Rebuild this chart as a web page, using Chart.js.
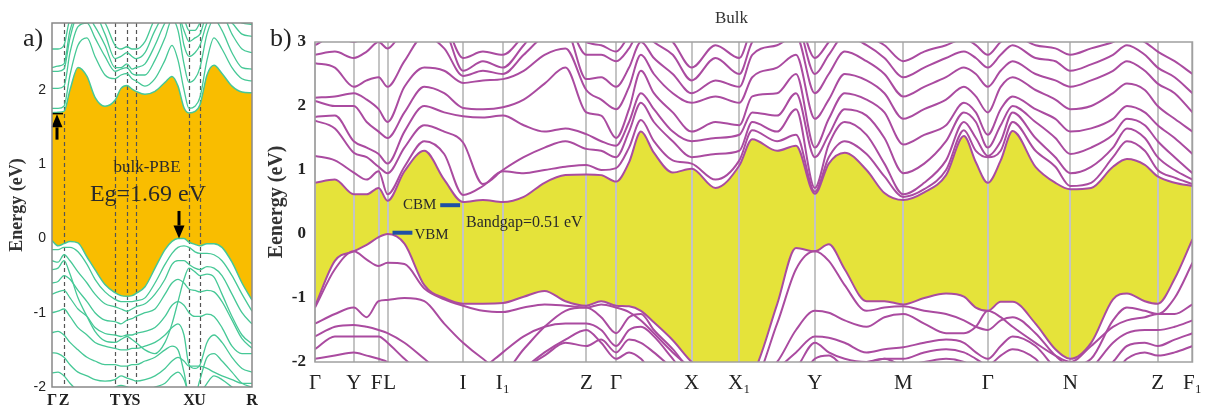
<!DOCTYPE html>
<html><head><meta charset="utf-8">
<script src="https://cdn.jsdelivr.net/npm/chart.js@4.4.1/dist/chart.umd.min.js"></script>
<style>
html,body{margin:0;padding:0;background:#fff;width:1211px;height:407px;overflow:hidden;}
#wa{position:absolute;left:0;top:0;width:265px;height:407px;}
#wb{position:absolute;left:265px;top:0;width:946px;height:407px;}
.lab{position:absolute;font-family:'Liberation Serif','Times New Roman',serif;font-size:26px;color:#222;line-height:1;}
</style></head><body>
<div id="wa"><canvas id="ca" width="265" height="407"></canvas></div>
<div id="wb"><canvas id="cb" width="946" height="407"></canvas></div>
<div class="lab" style="left:23px;top:25px">a)</div>
<div class="lab" style="left:270px;top:25px">b)</div>
<script>
// ---------------- Panel a (bulk-PBE) ----------------
const kA = [0,0.06,0.12,0.18,0.26,0.35,0.43,0.53,0.63,0.69,0.75,0.80,0.84,0.93,1.03,1.13,1.20,1.26,1.32,1.37,1.43,1.48,1.55,1.62,1.70,1.80,1.90,2.0];
const kATicks = [0,0.12,0.63,0.75,0.84,1.37,1.48,2.0];
const kALabels = ['Γ','Z','T','Y','S','X','U','R'];
const yTicksA = [-2,-1,0,1,2];
const aCond1 = [1.69,1.70,1.71,2.00,2.30,2.18,1.90,1.78,1.86,2.02,2.06,2.01,1.98,1.94,1.98,2.10,2.18,2.05,1.76,1.69,1.71,1.80,2.20,2.33,2.22,2.05,1.97,1.96];
const aCond2 = [1.75,1.75,1.78,2.20,2.60,2.70,2.45,2.20,2.15,2.20,2.22,2.15,2.12,2.05,2.15,2.40,2.60,2.40,2.00,1.75,1.78,1.90,2.40,2.70,2.55,2.30,2.15,2.12];
const aCond3 = [2.02,2.02,2.05,2.50,2.85,2.90,2.70,2.45,2.25,2.28,2.30,2.22,2.20,2.20,2.40,2.70,2.95,2.80,2.35,2.10,2.15,2.30,2.75,2.95,2.80,2.50,2.30,2.28];
const aCond4 = [2.25,2.25,2.28,2.70,3.00,3.00,2.85,2.60,2.30,2.30,2.35,2.28,2.30,2.35,2.60,2.90,3.00,3.00,2.60,2.45,2.50,2.60,2.90,3.00,3.00,2.75,2.55,2.50];
const aCond5 = [2.30,2.32,2.35,2.80,3.00,3.00,3.00,2.75,2.42,2.45,2.50,2.45,2.42,2.50,2.80,3.00,3.00,3.00,2.80,2.65,2.70,2.75,3.00,3.00,3.00,2.90,2.75,2.72];
const aCond6 = [2.55,2.55,2.60,2.95,3.00,3.00,3.00,2.90,2.60,2.55,2.58,2.55,2.55,2.65,2.95,3.00,3.00,3.00,2.95,2.80,2.80,2.90,3.00,3.00,3.00,3.00,2.90,2.88];
const aVal1 = [-0.03,-0.10,-0.07,-0.04,-0.06,-0.25,-0.42,-0.62,-0.73,-0.77,-0.78,-0.77,-0.74,-0.65,-0.40,-0.15,-0.04,0.00,0.00,-0.05,-0.08,-0.10,-0.07,-0.07,-0.12,-0.32,-0.60,-0.83];
const aVal2 = [-0.15,-0.15,-0.12,-0.12,-0.18,-0.35,-0.55,-0.72,-0.82,-0.85,-0.85,-0.85,-0.84,-0.80,-0.60,-0.35,-0.20,-0.12,-0.10,-0.12,-0.18,-0.20,-0.20,-0.22,-0.30,-0.50,-0.75,-0.98];
const aVal3 = [-0.30,-0.32,-0.22,-0.30,-0.45,-0.60,-0.75,-0.88,-0.92,-0.95,-0.98,-0.95,-0.92,-0.88,-0.75,-0.55,-0.35,-0.30,-0.30,-0.35,-0.40,-0.42,-0.38,-0.40,-0.50,-0.75,-1.00,-1.15];
const aVal4 = [-0.60,-0.58,-0.50,-0.55,-0.70,-0.85,-1.00,-1.10,-1.12,-1.15,-1.10,-1.08,-1.05,-1.00,-0.95,-0.75,-0.60,-0.55,-0.60,-0.68,-0.70,-0.72,-0.70,-0.72,-0.85,-1.10,-1.35,-1.48];
const aVal5 = [-0.75,-0.72,-0.70,-0.80,-0.95,-1.05,-1.20,-1.28,-1.30,-1.32,-1.30,-1.30,-1.28,-1.25,-1.20,-1.05,-0.90,-0.85,-0.90,-1.00,-1.05,-1.05,-1.02,-1.05,-1.20,-1.45,-1.55,-1.55];
const aVal6 = [-1.00,-0.98,-0.95,-1.05,-1.20,-1.30,-1.40,-1.45,-1.48,-1.50,-1.50,-1.48,-1.48,-1.45,-1.40,-1.30,-1.20,-1.15,-1.30,-1.70,-1.75,-1.70,-1.40,-1.30,-1.40,-1.60,-1.75,-1.80];
const aVal7 = [-1.27,-1.25,-1.30,-1.40,-1.50,-1.60,-1.65,-1.70,-1.70,-1.72,-1.72,-1.70,-1.70,-1.65,-1.60,-1.50,-1.45,-1.50,-1.80,-2.10,-2.10,-1.90,-1.60,-1.55,-1.65,-1.80,-1.95,-2.00];
const aVal8 = [-1.54,-1.55,-1.60,-1.70,-1.80,-1.85,-1.90,-1.92,-1.90,-1.85,-1.88,-1.90,-1.92,-1.90,-1.85,-1.75,-1.65,-1.60,-1.65,-1.72,-1.72,-1.72,-1.75,-1.80,-1.85,-1.90,-1.95,-1.95];
const aVal9 = [-1.81,-1.80,-1.85,-1.95,-2.05,-2.10,-2.10,-2.05,-2.00,-1.98,-2.00,-2.02,-2.05,-2.05,-2.00,-1.95,-1.85,-1.80,-1.90,-2.10,-2.20,-2.10,-1.95,-1.85,-1.90,-2.00,-2.10,-2.10];
const aVal10 = [-0.42,-0.40,-0.30,-0.48,-0.80,-1.05,-1.25,-1.38,-1.40,-1.36,-1.32,-1.36,-1.40,-1.50,-1.55,-1.40,-1.15,-0.85,-0.55,-0.40,-0.45,-0.50,-0.48,-0.52,-0.75,-1.05,-1.30,-1.42];

// ---------------- Panel b (Bulk) ----------------
const kB = [0,0.20,0.39,0.52,0.64,0.73,0.90,1.10,1.30,1.49,1.69,1.89,2.10,2.31,2.52,2.73,2.88,3.03,3.16,3.28,3.41,3.60,3.79,4.03,4.27,4.40,4.65,4.84,5.03,5.17,5.33,5.55,5.73,5.92,6.13,6.35,6.53,6.65,6.77,6.90,7.02,7.25,7.45,7.60,7.81,8.03,8.17,8.35,8.48,8.65,8.83];
const kBTicks = [0,0.39,0.64,0.73,1.49,1.89,2.73,3.03,3.79,4.27,5.03,5.92,6.77,7.60,8.48,8.83];
const kBLabels = ['Γ','Y','F\u2009','\u2009L','I','I₁','Z','Γ','X','X₁','Y','M','Γ','N','Z','F₁'];
const yTicksB = [-2,-1,0,1,2,3];
const bCond1 = [0.80,0.85,0.62,0.62,0.72,0.52, 0.98,1.30,0.85,0.50, 0.53,0.50,0.58,0.80,0.92, 0.93,0.92,0.82,1.12,1.60, 1.27,0.96,1.02,0.72,1.07, 1.48,1.30,1.38,0.63,1.10, 1.27,1.00,0.64,0.53,0.65, 0.92,1.53,1.12,0.80,1.15, 1.61,1.05,0.80,0.70,0.72, 1.05,1.17,1.08,0.90,0.80, 0.75];
const bCond2 = [1.22,1.15,0.96,0.85,0.98,0.62, 1.05,1.45,1.25,0.61, 0.75,0.98,0.95,1.00,1.05, 1.08,1.00,1.03,1.35,1.78, 1.45,1.15,1.10,0.85,1.15, 1.62,1.45,1.55,0.66,1.20, 1.45,1.25,0.90,0.58,0.70, 1.00,1.62,1.30,1.20,1.30, 1.75,1.30,1.05,0.75,0.80, 1.20,1.45,1.30,1.00,0.88, 0.78];
const bCond3 = [1.77,1.65,1.27,1.20,1.05,0.95, 1.35,1.70,1.60,1.43, 0.78,1.00,1.20,1.35,1.45, 1.33,1.30,1.20,1.60,2.05, 1.75,1.45,1.20,1.25,1.30, 1.75,1.60,1.95,0.72,1.40, 1.75,1.55,1.10,0.62,0.80, 1.15,1.75,1.50,1.22,1.45, 1.90,1.50,1.20,0.95,1.05, 1.35,1.65,1.50,1.20,1.00, 0.85];
const bCond4 = [1.83,1.85,1.45,1.35,1.25,1.10, 1.60,2.00,1.90,1.84, 1.82,1.85,1.70,1.60,1.65, 1.56,1.45,1.38,1.75,2.20, 1.95,1.60,1.45,1.50,1.55, 1.90,1.85,2.20,1.20,1.55, 1.95,1.85,1.50,0.95,1.10, 1.45,1.90,1.75,1.35,1.70, 2.00,1.75,1.50,1.25,1.35, 1.55,1.80,1.70,1.45,1.20, 0.95];
const bCond5 = [2.08,2.00,2.00,1.75,1.60,1.50, 1.90,2.30,2.20,1.97, 1.95,1.98,2.10,2.35,2.60, 1.90,1.85,1.50,1.95,2.55, 2.20,1.90,1.60,1.75,1.70, 2.15,2.20,2.50,1.35,1.80, 2.20,2.10,1.90,1.40,1.55, 1.70,2.05,1.90,1.55,1.95, 2.15,1.95,1.80,1.60,1.65, 1.80,2.00,1.90,1.70,1.50, 1.25];
const bCond6 = [2.13,2.15,2.20,2.10,1.95,1.75, 2.30,2.60,2.55,2.36, 2.40,2.42,2.55,2.80,2.90, 2.25,2.10,1.95,2.30,2.80, 2.50,2.20,2.05,2.15,2.05, 2.45,2.60,2.80,1.80,2.10, 2.50,2.40,2.20,1.80,1.95, 2.10,2.30,2.15,1.90,2.30, 2.45,2.25,2.10,1.95,2.00, 2.20,2.35,2.25,2.00,1.80, 1.60];
const bCond7 = [2.67,2.60,2.30,2.40,2.45,2.30, 2.70,3.10,2.90,2.47, 2.55,2.50,2.80,3.10,3.20, 2.42,2.45,2.30,2.60,3.00, 2.75,2.50,2.20,2.40,2.30, 2.80,2.95,3.10,2.20,2.50, 2.85,2.70,2.50,2.15,2.30, 2.45,2.60,2.50,2.30,2.55, 2.70,2.50,2.40,2.30,2.40, 2.55,2.70,2.55,2.35,2.20, 1.90];
const bCond8 = [2.80,2.85,2.75,2.85,3.00,2.90, 3.20,3.30,3.20,2.55, 2.70,2.60,2.95,3.30,3.30, 2.80,2.80,2.70,2.90,3.20, 3.00,2.80,2.40,2.75,2.50, 3.00,3.20,3.30,2.50,2.80, 3.10,2.95,2.75,2.45,2.60, 2.75,2.85,2.75,2.60,2.80, 2.95,2.75,2.70,2.55,2.65, 2.80,2.95,2.80,2.60,2.45, 2.20];
const bCond9 = [2.95,3.10,3.00,3.10,3.20,3.20, 3.30,3.40,3.30,2.75, 2.85,2.80,3.10,3.40,3.40, 3.00,2.95,2.85,3.10,3.30, 3.20,3.00,2.60,2.95,2.75, 3.20,3.30,3.40,2.75,3.00, 3.30,3.10,2.95,2.70,2.85, 2.95,3.05,2.95,2.80,3.00, 3.10,2.95,2.90,2.80,2.90, 3.00,3.10,3.00,2.85,2.70, 2.50];
const bVal1 = [-1.13,-0.42,-0.27,-0.17,-0.05,0.00, -0.15,-0.80,-1.00,-1.09, -1.09,-1.08,-0.98,-0.89,-1.05, -1.12,-1.05,-1.12,-1.13,-1.20, -1.38,-1.66,-2.00,-2.30,-2.30, -2.20,-1.10,-0.22,-0.27,-0.16, -0.55,-1.05,-1.05,-1.10,-1.00, -0.93,-0.98,-1.15,-1.20,-1.06, -1.06,-1.40,-1.80,-1.95,-1.70, -1.02,-0.93,-1.05,-1.09,-0.70, -0.08];
const bVal2 = [-1.15,-0.55,-0.27,-0.40,-0.50,-0.45, -0.47,-0.85,-1.02,-1.12, -1.20,-1.22,-1.15,-1.10,-1.12, -1.15,-1.10,-1.15,-1.22,-1.35, -1.55,-1.85,-2.10,-2.30,-2.30, -2.30,-1.40,-0.55,-0.27,-0.42, -0.80,-1.20,-1.15,-1.13,-1.20, -1.25,-1.35,-1.45,-1.50,-1.35, -1.30,-1.55,-1.90,-2.05,-1.95, -1.35,-1.15,-1.20,-1.25,-1.00, -0.45];
const bVal3 = [-1.40,-1.25,-1.15,-1.30,-1.05,-1.03, -1.00,-1.05,-1.40,-1.70, -1.95,-2.15,-1.80,-1.45,-1.20, -1.15,-1.30,-1.55,-1.30,-1.25, -1.50,-1.80,-2.15,-2.30,-2.30, -2.30,-2.00,-1.50,-1.20,-1.23, -1.35,-1.45,-1.30,-1.25,-1.40, -1.55,-1.55,-1.45,-1.20,-1.30, -1.45,-1.70,-1.90,-2.00,-1.75, -1.45,-1.35,-1.30,-1.25,-1.25, -1.10];
const bVal4 = [-1.60,-1.45,-1.42,-1.45,-1.50,-1.55, -1.70,-1.95,-2.20,-2.30, -2.10,-1.85,-1.60,-1.45,-1.40, -1.40,-1.50,-1.75,-1.50,-1.45, -1.60,-1.95,-2.30,-2.30,-2.30, -2.30,-2.10,-1.85,-1.60,-1.62, -1.70,-1.85,-1.80,-1.77,-1.70, -1.65,-1.70,-1.85,-1.95,-1.75, -1.60,-1.75,-2.10,-2.30,-2.10, -1.70,-1.55,-1.50,-1.50,-1.45, -1.35];
const bVal5 = [-1.80,-1.60,-1.60,-1.60,-1.60,-1.70, -1.95,-2.20,-2.30,-2.30, -2.30,-2.30,-2.10,-1.90,-1.70, -1.75,-1.65,-1.85,-1.65,-1.70, -1.85,-2.10,-2.30,-2.30,-2.30, -2.30,-2.30,-2.10,-1.70,-1.85, -1.95,-2.00,-1.95,-1.95,-1.85, -1.80,-1.85,-1.95,-2.05,-1.90, -1.80,-1.95,-2.30,-2.30,-2.30, -2.00,-1.75,-1.70,-1.75,-1.65, -1.55];
const bVal6 = [-1.95,-1.90,-1.85,-1.90,-1.95,-2.00, -2.20,-2.30,-2.30,-2.30, -2.30,-2.30,-2.10,-1.85,-1.65, -1.50,-1.70,-1.95,-1.85,-1.95, -2.20,-2.30,-2.30,-2.30,-2.30, -2.30,-2.30,-2.30,-1.95,-1.90, -2.05,-2.00,-1.95,-2.05,-2.00, -1.95,-2.00,-2.10,-2.30,-2.30, -2.30,-2.30,-2.30,-2.30,-2.30, -2.20,-1.95,-1.85,-1.90,-1.85, -1.75];

// ---------------- styling / helpers ----------------
const SERIF = "'Liberation Serif','Times New Roman',serif";
const GREEN = '#46c896', ORANGE = '#f9bd00', PURPLE = '#aa4ba0', YELLOW = '#e5e33a', BLUE = '#1f4fa5';

function pts(k, e) { return k.map((v, i) => ({x: v, y: e[i]})); }
function band(k, e, color, w, extra) {
  return Object.assign({data: pts(k, e), borderColor: color, borderWidth: w, pointRadius: 0,
    fill: false, cubicInterpolationMode: 'monotone'}, extra || {});
}
function deco(cfg) {
  return {
    id: 'deco' + cfg.name,
    beforeDatasetsDraw(chart) {
      if (!cfg.dashed) return;
      const {ctx, chartArea: a, scales: {x}} = chart;
      ctx.save();
      ctx.strokeStyle = cfg.dashed.color; ctx.lineWidth = cfg.dashed.width; ctx.setLineDash(cfg.dashed.dash);
      cfg.dashed.at.forEach(k => {
        const px = Math.round(x.getPixelForValue(k)) + 0.5;
        ctx.beginPath(); ctx.moveTo(px, a.top); ctx.lineTo(px, a.bottom); ctx.stroke();
      });
      ctx.restore();
    },
    afterDatasetsDraw(chart) {
      const {ctx, chartArea: a, scales: {x, y}} = chart;
      ctx.save();
      ctx.setLineDash([]);
      (cfg.bars || []).forEach(b => {
        ctx.strokeStyle = b.color; ctx.lineWidth = b.width;
        ctx.beginPath(); ctx.moveTo(x.getPixelForValue(b.k1), y.getPixelForValue(b.e));
        ctx.lineTo(x.getPixelForValue(b.k2), y.getPixelForValue(b.e)); ctx.stroke();
      });
      (cfg.arrows || []).forEach(ar => {
        const px = x.getPixelForValue(ar.k), p1 = y.getPixelForValue(ar.e1), p2 = y.getPixelForValue(ar.e2);
        const dir = p2 > p1 ? 1 : -1, hl = 13, hw = 5.5;
        ctx.strokeStyle = '#000'; ctx.fillStyle = '#000'; ctx.lineWidth = 3;
        ctx.beginPath(); ctx.moveTo(px, p1); ctx.lineTo(px, p2 - dir * hl); ctx.stroke();
        ctx.beginPath(); ctx.moveTo(px, p2); ctx.lineTo(px - hw, p2 - dir * hl); ctx.lineTo(px + hw, p2 - dir * hl);
        ctx.closePath(); ctx.fill();
      });
      (cfg.texts || []).forEach(t => {
        ctx.font = t.font; ctx.fillStyle = t.color; ctx.textAlign = t.align; ctx.textBaseline = 'middle';
        ctx.fillText(t.text, x.getPixelForValue(t.k), y.getPixelForValue(t.e));
      });
      ctx.strokeStyle = cfg.frame.color; ctx.lineWidth = cfg.frame.width;
      ctx.strokeRect(a.left, a.top, a.width, a.height);
      ctx.restore();
    }
  };
}

// ---------------- chart a ----------------
const aConds = [aCond1, aCond2, aCond3, aCond4, aCond5, aCond6];
const aVals = [aVal1, aVal2, aVal3, aVal4, aVal5, aVal6, aVal7, aVal8, aVal9, aVal10];
const dsA = [band(kA, aCond1, GREEN, 1.5, {fill: 1, backgroundColor: ORANGE}), band(kA, aVal1, GREEN, 1.5)];
aConds.slice(1).forEach(e => dsA.push(band(kA, e, GREEN, 1.3)));
aVals.slice(1).forEach(e => dsA.push(band(kA, e, GREEN, 1.3)));

new Chart(document.getElementById('ca'), {
  type: 'line',
  data: {datasets: dsA},
  options: {
    responsive: false, animation: false, events: [],
    layout: {padding: {left: 0, right: 13, top: 23, bottom: 0}},
    plugins: {legend: {display: false}, tooltip: {enabled: false}, filler: {drawTime: 'beforeDraw'}},
    scales: {
      x: {type: 'linear', min: 0, max: 2.0,
        afterFit: s => { s.height = 20; },
        afterBuildTicks: s => { s.ticks = kATicks.map(v => ({value: v})); },
        ticks: {autoSkip: false, maxRotation: 0, minRotation: 0, padding: 4, color: '#222',
          font: {family: SERIF, size: 16, weight: 'bold'}, callback: (v, i) => kALabels[i]},
        grid: {display: false, drawTicks: false}, border: {display: false}},
      y: {type: 'linear', min: -2, max: 2.9,
        afterFit: s => { s.width = 52; },
        afterBuildTicks: s => { s.ticks = yTicksA.map(v => ({value: v})); },
        ticks: {padding: 6, color: '#222', font: {family: "'Liberation Sans',Arial,sans-serif", size: 14},
          callback: v => String(v)},
        grid: {display: false, drawTicks: false}, border: {display: false},
        title: {display: true, text: 'Energy (eV)', color: '#333',
          font: {family: SERIF, size: 18, weight: 'bold'}, padding: {top: 7, bottom: 0}}}
    }
  },
  plugins: [deco({
    name: 'a',
    dashed: {at: [0.12, 0.63, 0.75, 0.84, 1.37, 1.48], color: '#555', width: 1.2, dash: [4, 3]},
    bars: [{k1: 0, k2: 0.11, e: 1.68, color: '#000', width: 1.5}],
    arrows: [{k: 0.05, e1: 1.33, e2: 1.67}, {k: 1.27, e1: 0.37, e2: 0.0}],
    texts: [
      {text: 'bulk-PBE', k: 0.95, e: 0.95, font: "17px " + SERIF, color: '#2a2a2a', align: 'center'},
      {text: 'Eg=1.69 eV', k: 0.96, e: 0.59, font: "24px " + SERIF, color: '#2a2a2a', align: 'center'}
    ],
    frame: {color: '#888', width: 1.5}
  })]
});

// ---------------- chart b ----------------
const bConds = [bCond1, bCond2, bCond3, bCond4, bCond5, bCond6, bCond7, bCond8, bCond9];
const bVals = [bVal1, bVal2, bVal3, bVal4, bVal5, bVal6];
const dsB = [band(kB, bCond1, PURPLE, 2, {fill: 1, backgroundColor: YELLOW}), band(kB, bVal1, PURPLE, 2)];
bConds.slice(1).forEach(e => dsB.push(band(kB, e, PURPLE, 2)));
bVals.slice(1).forEach(e => dsB.push(band(kB, e, PURPLE, 2)));

new Chart(document.getElementById('cb'), {
  type: 'line',
  data: {datasets: dsB},
  options: {
    responsive: false, animation: false, events: [],
    layout: {padding: {left: 0, right: 13, top: 0, bottom: 0}},
    plugins: {legend: {display: false}, tooltip: {enabled: false}, filler: {drawTime: 'beforeDraw'},
      title: {display: true, text: 'Bulk', color: '#333', font: {family: SERIF, size: 17, weight: 'normal'},
        padding: {top: 8, bottom: 13.6}}},
    scales: {
      x: {type: 'linear', min: 0, max: 8.83,
        afterFit: s => { s.height = 45; },
        afterBuildTicks: s => { s.ticks = kBTicks.map(v => ({value: v})); },
        ticks: {autoSkip: false, maxRotation: 0, minRotation: 0, padding: 9, color: '#222',
          font: {family: SERIF, size: 21}, callback: (v, i) => kBLabels[i]},
        grid: {display: true, drawTicks: false, color: '#c4c4c4', lineWidth: 2}, border: {display: false}},
      y: {type: 'linear', min: -2, max: 3,
        afterFit: s => { s.width = 50; },
        afterBuildTicks: s => { s.ticks = yTicksB.map(v => ({value: v})); },
        ticks: {padding: 9, color: '#222', font: {family: SERIF, size: 17, weight: 'bold'}, callback: v => String(v)},
        grid: {display: false, drawTicks: false}, border: {display: false},
        title: {display: true, text: 'Eenergy (eV)', color: '#333',
          font: {family: SERIF, size: 20, weight: 'bold'}, padding: {top: 0, bottom: 0}}}
    }
  },
  plugins: [deco({
    name: 'b',
    bars: [{k1: 1.26, k2: 1.46, e: 0.45, color: BLUE, width: 4}, {k1: 0.78, k2: 0.98, e: 0.02, color: BLUE, width: 4}],
    texts: [
      {text: 'CBM', k: 1.22, e: 0.45, font: "15px " + SERIF, color: '#2a2a2a', align: 'right'},
      {text: 'VBM', k: 1.00, e: -0.02, font: "15px " + SERIF, color: '#2a2a2a', align: 'left'},
      {text: 'Bandgap=0.51 eV', k: 1.52, e: 0.17, font: "16px " + SERIF, color: '#2a2a2a', align: 'left'}
    ],
    frame: {color: '#a0a0a0', width: 1.5}
  })]
});
</script>
</body></html>
